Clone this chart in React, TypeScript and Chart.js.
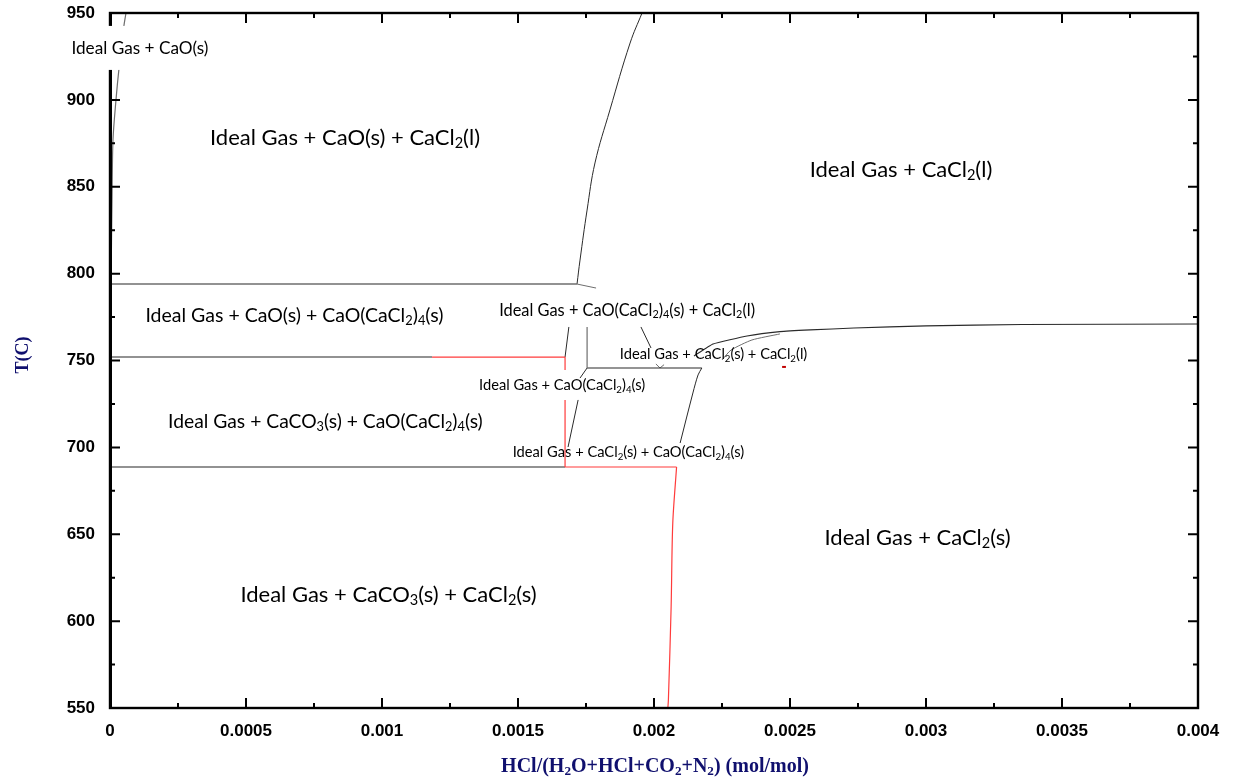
import React, { useEffect, useRef } from 'react';
import { Chart, registerables } from 'chart.js';

Chart.register(...registerables);

type P = [number, number];

// ---- axis ticks ----
const xTickValues = [0, 0.0005, 0.001, 0.0015, 0.002, 0.0025, 0.003, 0.0035, 0.004];
const xTickLabels = ['0', '0.0005', '0.001', '0.0015', '0.002', '0.0025', '0.003', '0.0035', '0.004'];
const yTickValues = [550, 600, 650, 700, 750, 800, 850, 900, 950];
const yTickLabels = ['550', '600', '650', '700', '750', '800', '850', '900', '950'];

// ---- phase boundaries (x = HCl mole fraction, y = T in C) ----
const horiz794: P[] = [[0, 794.0], [0.001717, 794.0]];
const stub794: P[] = [[0.001717, 794.0], [0.001787, 791.7]];
const liquidusCurve: P[] = [[0.001717, 794.0], [0.001728, 807.8], [0.001754, 836.6], [0.001783, 863.7], [0.001838, 894.2], [0.001912, 932.7], [0.001956, 950]];
const leftEdgeCurve: P[] = [[0.0000037, 794], [0.0000074, 842], [0.000011, 877], [0.000022, 900], [0.000033, 918], [0.0000515, 943], [0.0000588, 950]];
const horiz752Gray: P[] = [[0, 752.0], [0.001184, 752.0]];
const horiz752Red: P[] = [[0.001184, 752.0], [0.001673, 752.0]];
const redVertUpper: P[] = [[0.001673, 752.0], [0.001673, 744.5]];
const redVertLower: P[] = [[0.001673, 727.3], [0.001673, 688.7]];
const slantUpperLeft: P[] = [[0.001673, 752.0], [0.001687, 769.3]];
const vert1754: P[] = [[0.001754, 769.3], [0.001754, 745.7]];
const horiz746: P[] = [[0.001754, 745.7], [0.002176, 745.7]];
const slantMid: P[] = [[0.001952, 769.3], [0.001989, 757.2]];
const vMark: P[] = [[0.002007, 748.0], [0.002022, 745.7], [0.002037, 747.6]];
const downLeftA: P[] = [[0.001754, 745.7], [0.001728, 739.9]];
const downLeftB: P[] = [[0.001721, 727.3], [0.001684, 700.2]];
const downRight: P[] = [[0.002176, 745.7], [0.002162, 741.7], [0.002143, 731.3], [0.002096, 702.5]];
const horiz689Gray: P[] = [[0, 688.7], [0.001673, 688.7]];
const horiz689Red: P[] = [[0.001673, 688.7], [0.002083, 688.7]];
const redVertBottom: P[] = [[0.002083, 688.7], [0.002069, 656.4], [0.002063, 608.3], [0.002053, 555], [0.002051, 550]];
const upperCurve1: P[] = [[0.002147, 752.6], [0.002217, 759.5], [0.002342, 764.1], [0.002463, 766.6], [0.002574, 767.6], [0.002735, 768.7], [0.003, 769.9], [0.003353, 770.7], [0.004, 771.0]];
const upperCurve2: P[] = [[0.00225, 750.3], [0.002283, 756.0], [0.00236, 761.8], [0.002463, 765.3]];
const redDash: P[] = [[0.002471, 746.3], [0.002485, 746.3]];

// ---- region labels (text with _x = subscript), anchored in data coords ----
const regionTexts = [
  'Ideal Gas + CaO(s)',
  'Ideal Gas + CaO(s) + CaCl_2(l)',
  'Ideal Gas + CaCl_2(l)',
  'Ideal Gas + CaO(s) + CaO(CaCl_2)_4(s)',
  'Ideal Gas + CaO(CaCl_2)_4(s) + CaCl_2(l)',
  'Ideal Gas + CaCl_2(s) + CaCl_2(l)',
  'Ideal Gas + CaO(CaCl_2)_4(s)',
  'Ideal Gas + CaCO_3(s) + CaO(CaCl_2)_4(s)',
  'Ideal Gas + CaCl_2(s) + CaO(CaCl_2)_4(s)',
  'Ideal Gas + CaCl_2(s)',
  'Ideal Gas + CaCO_3(s) + CaCl_2(s)',
];
const regionX = [0.00011, 0.000864, 0.002908, 0.000678, 0.001901, 0.002219, 0.001662, 0.000792, 0.001906, 0.002969, 0.001024];
const regionY = [929.9, 878.6, 860.2, 776.2, 779.1, 753.8, 735.9, 715.2, 697.4, 648.4, 615.6];
const regionFontPx = [17.2, 22, 22, 19.5, 16.4, 14.7, 14.7, 19.3, 14.7, 22, 22];
const regionBg = [true, false, false, false, false, false, false, false, false, false, false];

const xTitle = 'HCl/(H_2O+HCl+CO_2+N_2) (mol/mol)';
const yTitle = 'T(C)';

const BLACK = '#2a2a2a';
const GRAY = '#6e6e6e';
const RED = '#ff3b3b';

const segments: { pts: P[]; color: string; w: number; t: number }[] = [
  { pts: horiz794, color: GRAY, w: 1.4, t: 0 },
  { pts: stub794, color: GRAY, w: 1, t: 0 },
  { pts: liquidusCurve, color: BLACK, w: 1, t: 0.4 },
  { pts: leftEdgeCurve, color: GRAY, w: 1.2, t: 0.3 },
  { pts: horiz752Gray, color: GRAY, w: 1.5, t: 0 },
  { pts: horiz752Red, color: RED, w: 1.2, t: 0 },
  { pts: redVertUpper, color: RED, w: 1.2, t: 0 },
  { pts: redVertLower, color: RED, w: 1.2, t: 0 },
  { pts: slantUpperLeft, color: BLACK, w: 1, t: 0 },
  { pts: vert1754, color: GRAY, w: 1.2, t: 0 },
  { pts: horiz746, color: BLACK, w: 1.1, t: 0 },
  { pts: slantMid, color: BLACK, w: 1, t: 0 },
  { pts: vMark, color: GRAY, w: 1, t: 0 },
  { pts: downLeftA, color: BLACK, w: 1, t: 0 },
  { pts: downLeftB, color: BLACK, w: 1, t: 0 },
  { pts: downRight, color: BLACK, w: 1, t: 0.3 },
  { pts: horiz689Gray, color: GRAY, w: 1.4, t: 0 },
  { pts: horiz689Red, color: RED, w: 1.2, t: 0 },
  { pts: redVertBottom, color: RED, w: 1.2, t: 0.3 },
  { pts: upperCurve1, color: BLACK, w: 1.1, t: 0.12 },
  { pts: upperCurve2, color: GRAY, w: 1, t: 0.2 },
  { pts: redDash, color: '#c00000', w: 2, t: 0 },
];

type Part = { t: string; sub: boolean };
function parseRich(s: string): Part[] {
  const out: Part[] = [];
  let buf = '';
  for (let i = 0; i < s.length; i++) {
    if (s[i] === '_' && i + 1 < s.length) {
      if (buf) out.push({ t: buf, sub: false });
      buf = '';
      out.push({ t: s[i + 1], sub: true });
      i++;
    } else buf += s[i];
  }
  if (buf) out.push({ t: buf, sub: false });
  return out;
}

function richWidth(ctx: CanvasRenderingContext2D, s: string, size: number, family: string, weight: string) {
  const parts = parseRich(s);
  let w = 0;
  for (const p of parts) {
    ctx.font = `${weight} ${p.sub ? size * 0.66 : size}px ${family}`;
    w += ctx.measureText(p.t).width;
  }
  return w;
}

function drawRich(ctx: CanvasRenderingContext2D, s: string, cx: number, cy: number, size: number, family: string, weight: string, color: string) {
  const parts = parseRich(s);
  const w = richWidth(ctx, s, size, family, weight);
  let x = cx - w / 2;
  ctx.textAlign = 'left';
  ctx.textBaseline = 'alphabetic';
  ctx.fillStyle = color;
  const base = cy + size * 0.35;
  for (const p of parts) {
    const sz = p.sub ? size * 0.66 : size;
    ctx.font = `${weight} ${sz}px ${family}`;
    ctx.fillText(p.t, x, base + (p.sub ? size * 0.17 : 0));
    x += ctx.measureText(p.t).width;
  }
  return w;
}

const LABEL_FONT = 'Lato, "Open Sans", sans-serif';
const TITLE_FONT = '"Liberation Serif", "DejaVu Serif", serif';
const NAVY = '#10106e';

const framePlugin = {
  id: 'framePlugin',
  afterDraw(chart: any) {
    const { ctx, chartArea: a, scales } = chart;
    const xs = scales.x;
    const ys = scales.y;
    ctx.save();
    ctx.strokeStyle = '#000';
    ctx.lineWidth = 2;
    ctx.lineCap = 'butt';
    const major = 10;
    const minor = 5;
    for (let i = 0; i < xTickValues.length; i++) {
      const px = xs.getPixelForValue(xTickValues[i]);
      ctx.beginPath();
      ctx.moveTo(px, a.bottom); ctx.lineTo(px, a.bottom - major);
      ctx.moveTo(px, a.top); ctx.lineTo(px, a.top + major);
      ctx.stroke();
      if (i < xTickValues.length - 1) {
        const pm = xs.getPixelForValue((xTickValues[i] + xTickValues[i + 1]) / 2);
        ctx.beginPath();
        ctx.moveTo(pm, a.bottom); ctx.lineTo(pm, a.bottom - minor);
        ctx.moveTo(pm, a.top); ctx.lineTo(pm, a.top + minor);
        ctx.stroke();
      }
    }
    for (let i = 0; i < yTickValues.length; i++) {
      const py = ys.getPixelForValue(yTickValues[i]);
      ctx.beginPath();
      ctx.moveTo(a.left, py); ctx.lineTo(a.left + major, py);
      ctx.moveTo(a.right, py); ctx.lineTo(a.right - major, py);
      ctx.stroke();
      if (i < yTickValues.length - 1) {
        const pm = ys.getPixelForValue((yTickValues[i] + yTickValues[i + 1]) / 2);
        ctx.beginPath();
        ctx.moveTo(a.left, pm); ctx.lineTo(a.left + minor, pm);
        ctx.moveTo(a.right, pm); ctx.lineTo(a.right - minor, pm);
        ctx.stroke();
      }
    }
    ctx.lineWidth = 2.4;
    ctx.strokeRect(a.left, a.top, a.right - a.left, a.bottom - a.top);
    ctx.lineWidth = 3;
    ctx.beginPath();
    ctx.moveTo(a.left + 0.5, a.top - 1); ctx.lineTo(a.left + 0.5, a.bottom + 1);
    ctx.stroke();

    for (let i = 0; i < regionTexts.length; i++) {
      const cx = xs.getPixelForValue(regionX[i]);
      const cy = ys.getPixelForValue(regionY[i]);
      const size = regionFontPx[i];
      if (regionBg[i]) {
        const w = richWidth(ctx, regionTexts[i], size, LABEL_FONT, 'normal');
        ctx.fillStyle = '#fff';
        ctx.fillRect(cx - w / 2 - 6, cy - 22, w + 12, 44);
      }
      drawRich(ctx, regionTexts[i], cx, cy, size, LABEL_FONT, 'normal', '#000');
    }

    drawRich(ctx, xTitle, 655, 765, 20, TITLE_FONT, 'bold', NAVY);
    ctx.save();
    ctx.translate(22, 355);
    ctx.rotate(-Math.PI / 2);
    drawRich(ctx, yTitle, 0, 0, 18, TITLE_FONT, 'bold', NAVY);
    ctx.restore();
    ctx.restore();
  },
};

export default function App() {
  const ref = useRef<HTMLCanvasElement | null>(null);
  useEffect(() => {
    document.body.style.margin = '0';
    const canvas = ref.current;
    if (!canvas) return;
    const datasets = segments.map((s) => ({
      data: s.pts.map(([x, y]) => ({ x, y })),
      showLine: true,
      borderColor: s.color,
      backgroundColor: s.color,
      borderWidth: s.w,
      pointRadius: 0,
      tension: s.t,
    }));
    const tickFont = { family: '"Liberation Sans", Arial, sans-serif', weight: 'bold' as const, size: 17 };
    const chart = new Chart(canvas, {
      type: 'scatter',
      data: { datasets },
      options: {
        responsive: false,
        animation: false,
        devicePixelRatio: 1,
        layout: { padding: { top: 13, right: 35, left: 0, bottom: 0 } },
        plugins: { legend: { display: false }, tooltip: { enabled: false } },
        scales: {
          x: {
            type: 'linear',
            min: 0,
            max: 0.004,
            afterBuildTicks: (s: any) => { s.ticks = xTickValues.map((v) => ({ value: v })); },
            afterFit: (s: any) => { s.height = 70; s.paddingLeft = 0; s.paddingRight = 0; s.paddingTop = 0; s.paddingBottom = 0; },
            ticks: {
              callback: (_v: any, i: number) => xTickLabels[i],
              font: tickFont,
              color: '#000',
              padding: 13,
              maxRotation: 0,
              autoSkip: false,
            },
            grid: { display: false, drawTicks: false },
            border: { display: false },
          },
          y: {
            type: 'linear',
            min: 550,
            max: 950,
            afterBuildTicks: (s: any) => { s.ticks = yTickValues.map((v) => ({ value: v })); },
            afterFit: (s: any) => { s.width = 110; s.paddingLeft = 0; s.paddingRight = 0; s.paddingTop = 0; s.paddingBottom = 0; },
            ticks: {
              callback: (_v: any, i: number) => yTickLabels[i],
              font: tickFont,
              color: '#000',
              padding: 15,
              autoSkip: false,
            },
            grid: { display: false, drawTicks: false },
            border: { display: false },
          },
        },
      },
      plugins: [framePlugin],
    });
    return () => chart.destroy();
  }, []);
  return (
    <div style={{ position: 'absolute', left: 0, top: 0, width: 1233, height: 778, background: '#fff' }}>
      <canvas ref={ref} width={1233} height={778} style={{ display: 'block' }} />
    </div>
  );
}
